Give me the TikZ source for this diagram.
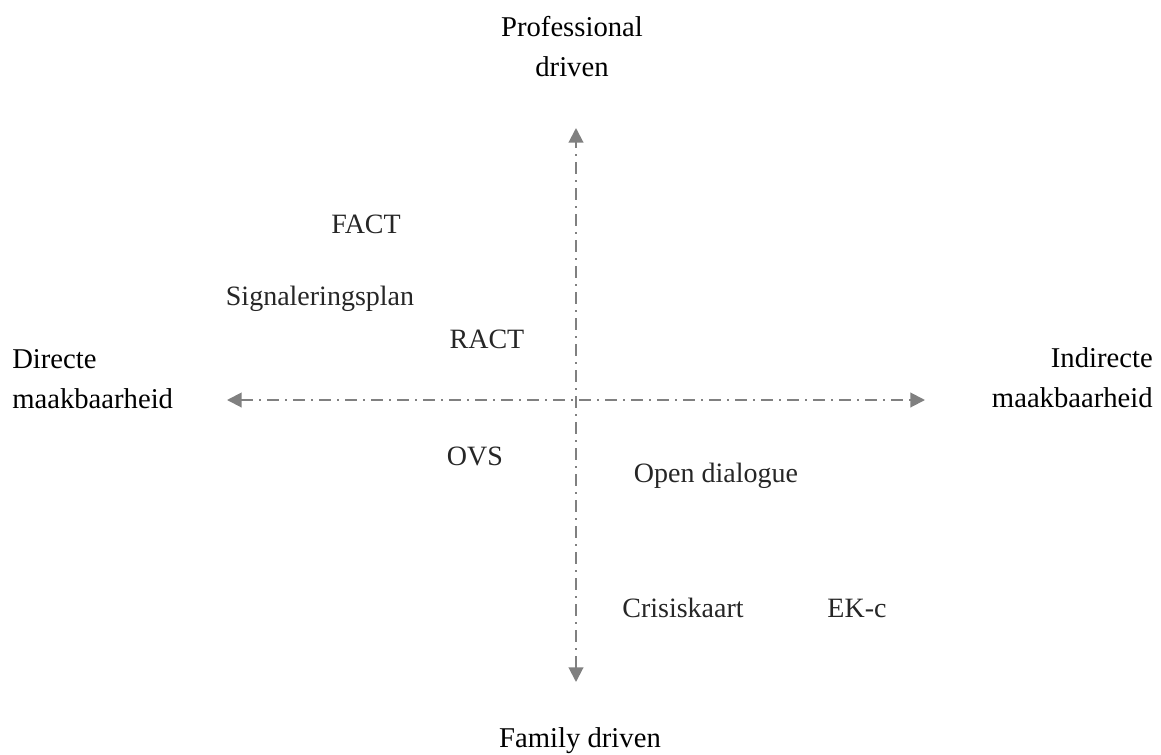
\documentclass[tikz,border=0pt]{standalone}
\usepackage{fontspec}
\setmainfont{Liberation Serif}
\usetikzlibrary{arrows.meta}
\begin{document}
\begin{tikzpicture}[x=0.75pt, y=-0.75pt]
\tikzset{axis/.style={draw=gray, line width=1.5pt, dash pattern=on 9pt off 4.5pt on 1.5pt off 4.5pt, {Triangle[length=11pt,width=11pt]}-{Triangle[length=11pt,width=11pt]}},
  pole/.style={font=\fontsize{21.5}{30}\selectfont, align=center, inner sep=0pt},
  item/.style={font=\fontsize{21}{25}\selectfont, text=black!85, inner sep=0pt, anchor=base}}
\useasboundingbox (0,0) rectangle (1161,754);
\coordinate (left) at (227,400);
\coordinate (right) at (925,400);
\coordinate (top) at (576,128);
\coordinate (bottom) at (576,682);
\draw[axis](left) -- (right);
\draw[axis](bottom) -- (top);
\node[pole] (prof) at (572,47){Professional\\driven};
\node[pole, anchor=base] (fam) at (580,747){Family driven};
\node[pole, align=left, anchor=west] (dir) at (12,379){Directe\\maakbaarheid};
\node[pole, align=right, anchor=east] (indir) at (1153,378){Indirecte\\maakbaarheid};
\node[item] (fact) at (366,233){FACT};
\node[item] (sig) at (320,305){Signaleringsplan};
\node[item] (ract) at (487,348){RACT};
\node[item] (ovs) at (475,465){OVS};
\node[item] (open) at (716,482){Open dialogue};
\node[item] (cris) at (683,617){Crisiskaart};
\node[item] (ekc) at (857,617){EK-c};
\end{tikzpicture}
\end{document}
